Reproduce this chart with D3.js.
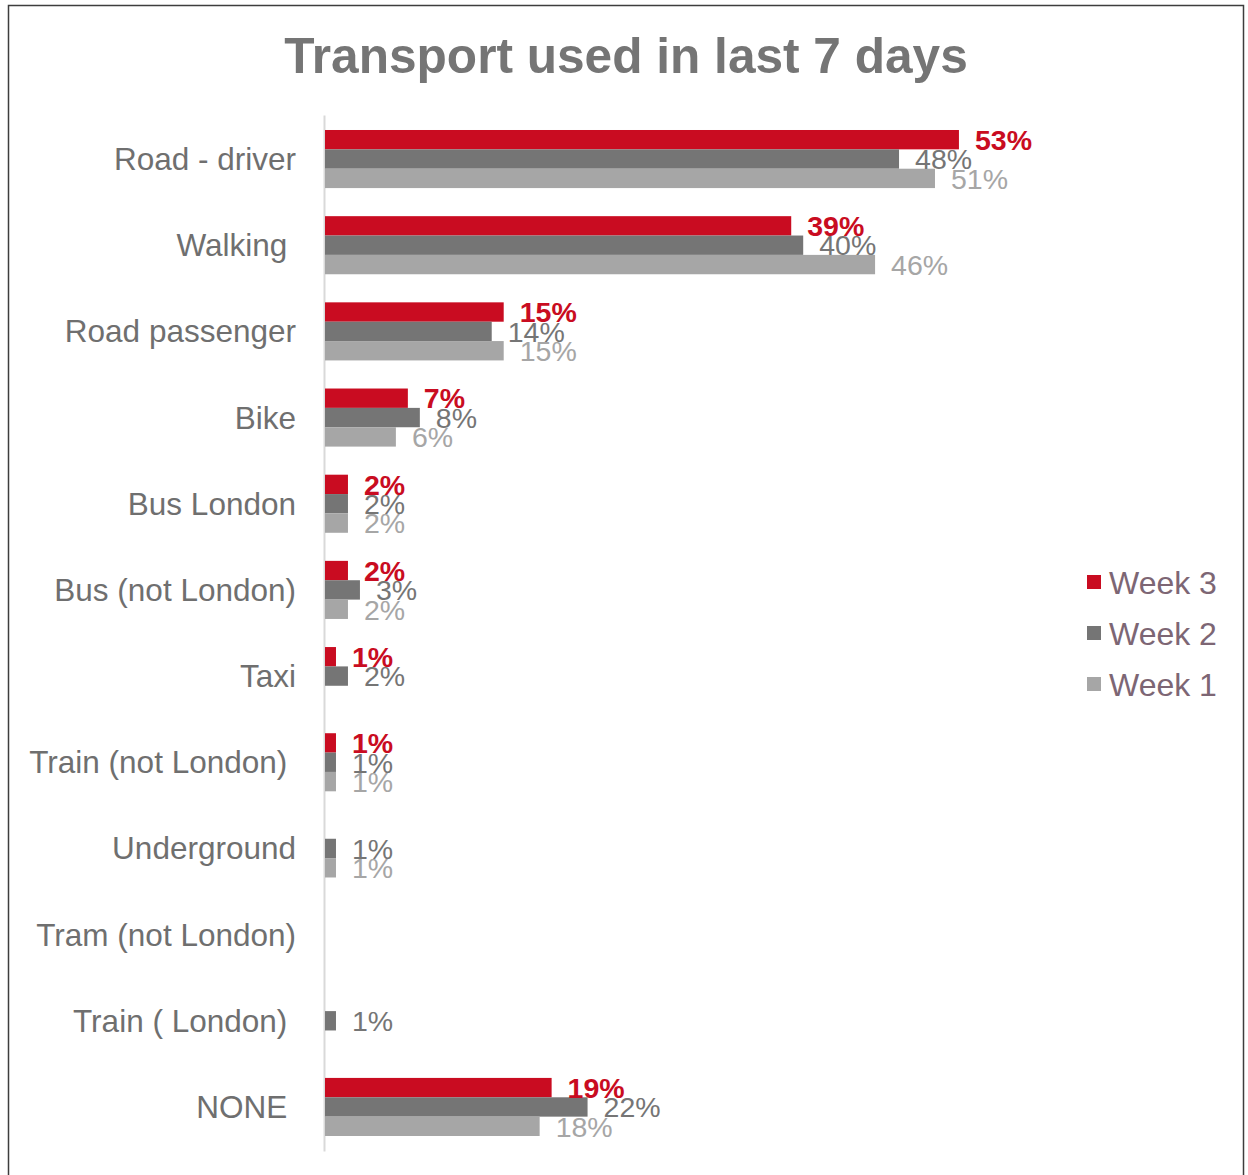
<!DOCTYPE html>
<html>
<head>
<meta charset="utf-8">
<script src="https://cdn.jsdelivr.net/npm/d3@7"></script>
<style>
  body { margin: 0; background: #fff; }
  text { font-family: "Liberation Sans", Arial, sans-serif; }
  .cat { white-space: pre; }
</style>
</head>
<body>
<script>
// categories (trailing spaces kept as in the original labels)
const categories = ["Road - driver", "Walking ", "Road passenger", "Bike", "Bus London", "Bus (not London)",
  "Taxi", "Train (not London) ", "Underground", "Tram (not London)", "Train ( London) ", "NONE "];
const weeks = ["Week 3", "Week 2", "Week 1"];
// values in %, null = no bar
const week3 = [53, 39, 15, 7, 2, 2, 1, 1, null, null, null, 19];
const week2 = [48, 40, 14, 8, 2, 3, 2, 1, 1, null, 1, 22];
const week1 = [51, 46, 15, 6, 2, 2, null, 1, 1, null, null, 18];

const colors = {"Week 3": "#c90c21", "Week 2": "#757575", "Week 1": "#a6a6a6"};
const legendText = "#7d6674";

const W = 1248, H = 1175;
const svg = d3.select("body").append("svg")
    .attr("width", W)
    .attr("height", H);

// outer frame
svg.append("rect")
    .attr("x", 8.5).attr("y", 5.5)
    .attr("width", 1235).attr("height", 1185)
    .attr("fill", "none")
    .attr("stroke", "#3d3d3d")
    .attr("stroke-width", 1.5);

// title
svg.append("text")
    .attr("x", 626).attr("y", 73)
    .attr("text-anchor", "middle")
    .attr("font-size", 49.6)
    .attr("font-weight", "bold")
    .attr("fill", "#757575")
    .text("Transport used in last 7 days");

// scales
const x = d3.scaleLinear().domain([0, 100]).range([324, 324 + 1198]);
const y = d3.scaleBand().domain(categories).range([115, 1151])
    .paddingInner(0.326).paddingOuter(0.174);
const yInner = d3.scaleBand().domain(weeks).range([0, y.bandwidth()]);

const rows = categories.map((c, i) => ({
  cat: c,
  vals: [
    {week: "Week 3", v: week3[i]},
    {week: "Week 2", v: week2[i]},
    {week: "Week 1", v: week1[i]}
  ].filter(d => d.v !== null)
}));

// axis line
const yAxis = d3.axisLeft(y).tickSize(0).tickPadding(28);
const gAxis = svg.append("g")
    .attr("class", "axis")
    .attr("transform", `translate(${x(0)},0)`)
    .call(yAxis);
gAxis.select(".domain").attr("stroke", "#d9d9d9").attr("stroke-width", 2);
gAxis.selectAll(".tick text")
    .attr("class", "cat")
    .attr("font-size", 31.5)
    .attr("fill", "#6f6f6f")
    .attr("font-family", "Liberation Sans, Arial, sans-serif")
    .attr("dy", "0.35em");

// groups
const groups = svg.append("g").selectAll(".grp").data(rows)
  .enter().append("g")
    .attr("class", "grp")
    .attr("transform", d => `translate(0,${y(d.cat)})`);

groups.selectAll("rect").data(d => d.vals)
  .enter().append("rect")
    .attr("x", x(0) + 1)
    .attr("y", d => yInner(d.week))
    .attr("width", d => x(d.v) - x(0) - 1)
    .attr("height", yInner.bandwidth())
    .attr("fill", d => colors[d.week]);

groups.selectAll("text.lbl").data(d => d.vals)
  .enter().append("text")
    .attr("class", "lbl")
    .attr("x", d => x(d.v) + 16)
    .attr("y", d => yInner(d.week) + yInner.bandwidth() / 2)
    .attr("dy", "0.36em")
    .attr("font-size", 28.5)
    .attr("font-weight", d => d.week === "Week 3" ? "bold" : "normal")
    .attr("fill", d => colors[d.week])
    .text(d => d.v + "%");

// legend
const legend = svg.append("g").selectAll(".leg").data(weeks)
  .enter().append("g")
    .attr("class", "leg")
    .attr("transform", (d, i) => `translate(1087,${582 + i * 51})`);
legend.append("rect")
    .attr("x", 0).attr("y", -7)
    .attr("width", 14).attr("height", 14)
    .attr("fill", d => colors[d]);
legend.append("text")
    .attr("x", 22).attr("y", 0)
    .attr("dy", "0.36em")
    .attr("font-size", 32)
    .attr("fill", legendText)
    .text(d => d);
</script>
</body>
</html>
